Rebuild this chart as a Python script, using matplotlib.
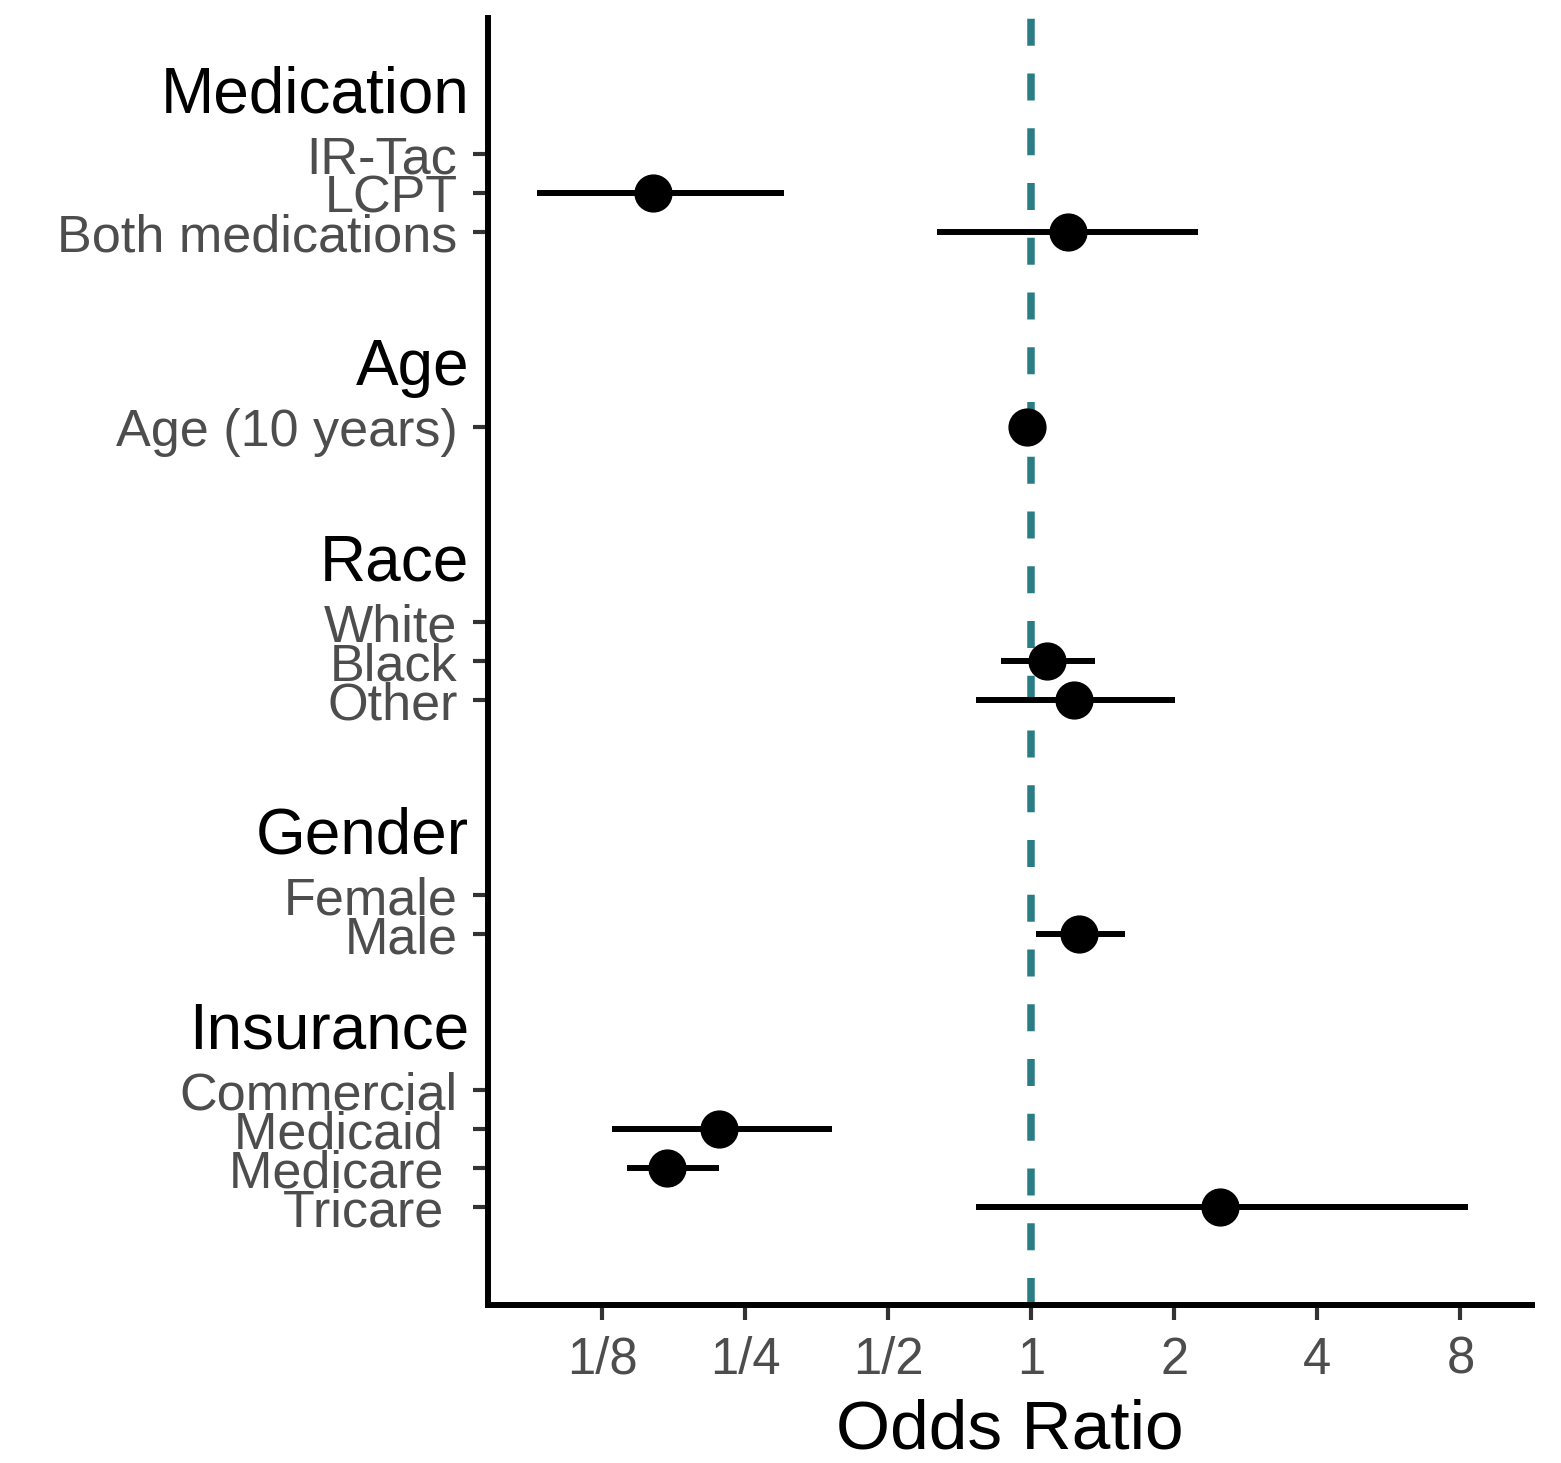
import numpy as np
import matplotlib
matplotlib.use("Agg")
import matplotlib.pyplot as plt
import matplotlib.transforms as mtransforms

plt.rcParams['font.family'] = ['Liberation Sans', 'DejaVu Sans']

# groups and their rows (reference rows have no estimate)
groups = ["Medication", "Age", "Race", "Gender", "Insurance"]
group_rows = [
    ["IR-Tac", "LCPT", "Both medications"],
    ["Age (10 years)"],
    ["White", "Black", "Other"],
    ["Female", "Male"],
    ["Commercial", "Medicaid ", "Medicare ", "Tricare "],
]
nan = np.nan
odds  = [nan, 0.160, 1.196, 0.981, nan, 1.081, 1.232, nan, 1.262, nan, 0.220, 0.171, 2.50]
lower = [nan, 0.091, 0.634, 0.955, nan, 0.865, 0.766, nan, 1.024, nan, 0.131, 0.141, 0.766]
upper = [nan, 0.301, 2.247, 1.005, nan, 1.364, 2.010, nan, 1.577, nan, 0.381, 0.220, 8.28]
xticks = [1/8, 1/4, 1/2, 1, 2, 4, 8]
xticklabels = ["1/8", "1/4", "1/2", "1", "2", "4", "8"]

# y layout: gap (in rows) before each group's first row
gaps = [3.5, 5, 5, 5, 4]
ypos, labels, heads = [], [], []
y = 0
for g, rows, gap in zip(groups, group_rows, gaps):
    y = y + gap if ypos else gap
    heads.append((g, y))
    for i, r in enumerate(rows):
        if i > 0:
            y += 1
        ypos.append(y)
        labels.append(r)
ypos = np.array(ypos, dtype=float)

fig = plt.figure(figsize=(15.61, 14.63), dpi=100)
ax = fig.add_axes([0.3126, 0.108, 0.6688, 0.8797])

ax.axvline(1, color='#2A7D84', lw=5.4, dashes=(3.6, 3.7), zorder=1)
ax.hlines(ypos, lower, upper, color='black', lw=4.3, zorder=2)
ax.plot(odds, ypos, 'o', color='black', ms=26.5, zorder=3)

ax.set_xscale('log', base=2)
ax.set_xlim(2 ** -3.80, 2 ** 3.50)
ax.set_xticks(xticks)
ax.set_xticklabels(xticklabels)
ax.minorticks_off()
ax.set_ylim(33.0, 0)
ax.set_yticks(ypos)
ax.set_yticklabels(labels)

for s in ['top', 'right']:
    ax.spines[s].set_visible(False)
for s in ['left', 'bottom']:
    ax.spines[s].set_linewidth(4.3)
    ax.spines[s].set_color('black')
ax.tick_params(axis='both', length=11, width=3, color='#333333',
               labelcolor='#4D4D4D', pad=11)
ax.tick_params(axis='x', labelsize=36.5)
ax.tick_params(axis='y', labelsize=37.5)

trans = mtransforms.blended_transform_factory(ax.transAxes, ax.transData)
for g, y0 in heads:
    ax.text(-0.018, y0 - 1.08, g, transform=trans, ha='right', va='baseline',
            fontsize=46, color='black')

ax.set_xlabel("Odds Ratio", fontsize=50, color='black', labelpad=10)

fig.savefig("out.png", dpi=100)
